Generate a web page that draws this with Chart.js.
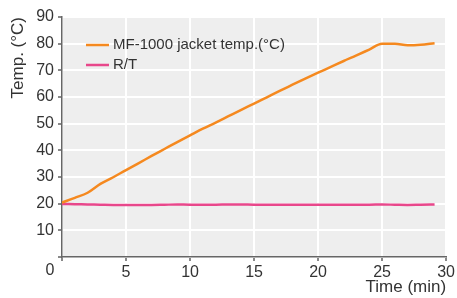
<!DOCTYPE html>
<html lang="en">
<head>
    <meta charset="UTF-8">
    <title>MF-1000 jacket temp.</title>
    <script src="https://cdn.jsdelivr.net/npm/chart.js"></script>
    <style>
        body {
            margin: 0;
            padding: 0;
            background-color: #fff;
        }
        #wrap {
            width: 457px;
            height: 298px;
        }
    </style>
</head>
<body>
    <div id="wrap"><canvas id="tempChart"></canvas></div>

    <script>
        // Tiempo (min) y temperaturas
        const times = [0, 1, 2, 3, 4, 5, 6, 7, 8, 9, 10, 11, 12, 13, 14, 15, 16, 17, 18, 19, 20, 21, 22, 23, 24, 25, 26, 27, 28, 29.1];
        const jacketTemp = [20.4, 22.2, 24.1, 27.4, 29.9, 32.6, 35.2, 37.9, 40.5, 43.1, 45.6, 48.1, 50.4, 52.8, 55.2, 57.5, 59.9, 62.3, 64.6, 66.9, 69.1, 71.3, 73.5, 75.6, 77.8, 80.0, 80.0, 79.4, 79.6, 80.2];
        const roomTemp = [19.9, 19.8, 19.7, 19.6, 19.5, 19.5, 19.5, 19.5, 19.6, 19.7, 19.6, 19.6, 19.6, 19.7, 19.7, 19.6, 19.6, 19.6, 19.6, 19.6, 19.6, 19.6, 19.6, 19.6, 19.6, 19.7, 19.6, 19.5, 19.6, 19.7];
        const seriesNames = ['MF-1000 jacket temp.(°C)', 'R/T'];
        const seriesColors = ['#f5891f', '#e8478b'];
        const xTicks = { min: 0, max: 30, step: 5 };
        const yTicks = { min: 0, max: 90, step: 10 };

        const toPoints = (vals) => vals.map((v, i) => ({ x: times[i], y: v }));

        // fondo gris del área, leyenda y el "0" del origen
        const extras = {
            id: 'extras',
            beforeDraw(chart) {
                const a = chart.chartArea;
                const c = chart.ctx;
                c.save();
                c.fillStyle = '#eeeeee';
                c.fillRect(a.left, a.top, a.right - a.left, a.bottom - a.top);
                c.restore();
            },
            afterDraw(chart) {
                const c = chart.ctx;
                const xs = chart.scales.x;
                c.save();
                c.font = '16px "Liberation Sans", Arial, sans-serif';
                c.fillStyle = '#333';
                c.textAlign = 'center';
                c.textBaseline = 'middle';
                c.fillText('0', xs.left - 12, 271);

                c.font = '15px "Liberation Sans", Arial, sans-serif';
                c.textAlign = 'left';
                chart.data.datasets.forEach((ds, i) => {
                    const y = 45 + i * 20;
                    c.strokeStyle = ds.borderColor;
                    c.lineWidth = 2.5;
                    c.beginPath();
                    c.moveTo(86, y);
                    c.lineTo(109, y);
                    c.stroke();
                    c.fillStyle = '#333';
                    c.fillText(ds.label, 113, y);
                });
                c.restore();
            }
        };

        const ctx = document.getElementById('tempChart').getContext('2d');
        const tempChart = new Chart(ctx, {
            type: 'line',
            data: {
                datasets: [{
                    label: seriesNames[0],
                    data: toPoints(jacketTemp),
                    borderColor: seriesColors[0],
                    borderWidth: 2.5,
                    pointRadius: 0,
                    cubicInterpolationMode: 'monotone'
                }, {
                    label: seriesNames[1],
                    data: toPoints(roomTemp),
                    borderColor: seriesColors[1],
                    borderWidth: 2.5,
                    pointRadius: 0,
                    cubicInterpolationMode: 'monotone'
                }]
            },
            options: {
                responsive: true,
                maintainAspectRatio: false,
                animation: false,
                layout: { padding: { top: 17, right: 8, left: 8, bottom: 0 } },
                plugins: {
                    legend: { display: false },
                    tooltip: { enabled: false }
                },
                scales: {
                    x: {
                        type: 'linear',
                        min: xTicks.min,
                        max: xTicks.max,
                        afterFit: (s) => { s.height = 41; },
                        ticks: {
                            stepSize: xTicks.step,
                            color: '#333',
                            font: { family: '"Liberation Sans", Arial, sans-serif', size: 16 },
                            padding: 2,
                            maxRotation: 0,
                            callback: (v) => v === 0 ? '' : v
                        },
                        grid: { color: '#ffffff', lineWidth: 2, tickColor: '#888', tickLength: 4 },
                        border: { color: '#666', width: 1.5 },
                        title: {
                            display: true,
                            text: 'Time (min)',
                            align: 'end',
                            color: '#333',
                            font: { family: '"Liberation Sans", Arial, sans-serif', size: 17 },
                            padding: { top: -2, bottom: 0 }
                        }
                    },
                    y: {
                        min: yTicks.min,
                        max: yTicks.max,
                        afterFit: (s) => { s.width = 54; },
                        ticks: {
                            stepSize: yTicks.step,
                            color: '#333',
                            font: { family: '"Liberation Sans", Arial, sans-serif', size: 16 },
                            padding: 4,
                            callback: (v) => v === 0 ? '' : v
                        },
                        grid: { color: '#ffffff', lineWidth: 2, tickColor: '#888', tickLength: 4 },
                        border: { color: '#666', width: 1.5 },
                        title: {
                            display: true,
                            text: 'Temp. (°C)',
                            align: 'end',
                            color: '#333',
                            font: { family: '"Liberation Sans", Arial, sans-serif', size: 17 },
                            padding: { top: 0, bottom: 0 }
                        }
                    }
                }
            },
            plugins: [extras]
        });
    </script>
</body>
</html>
